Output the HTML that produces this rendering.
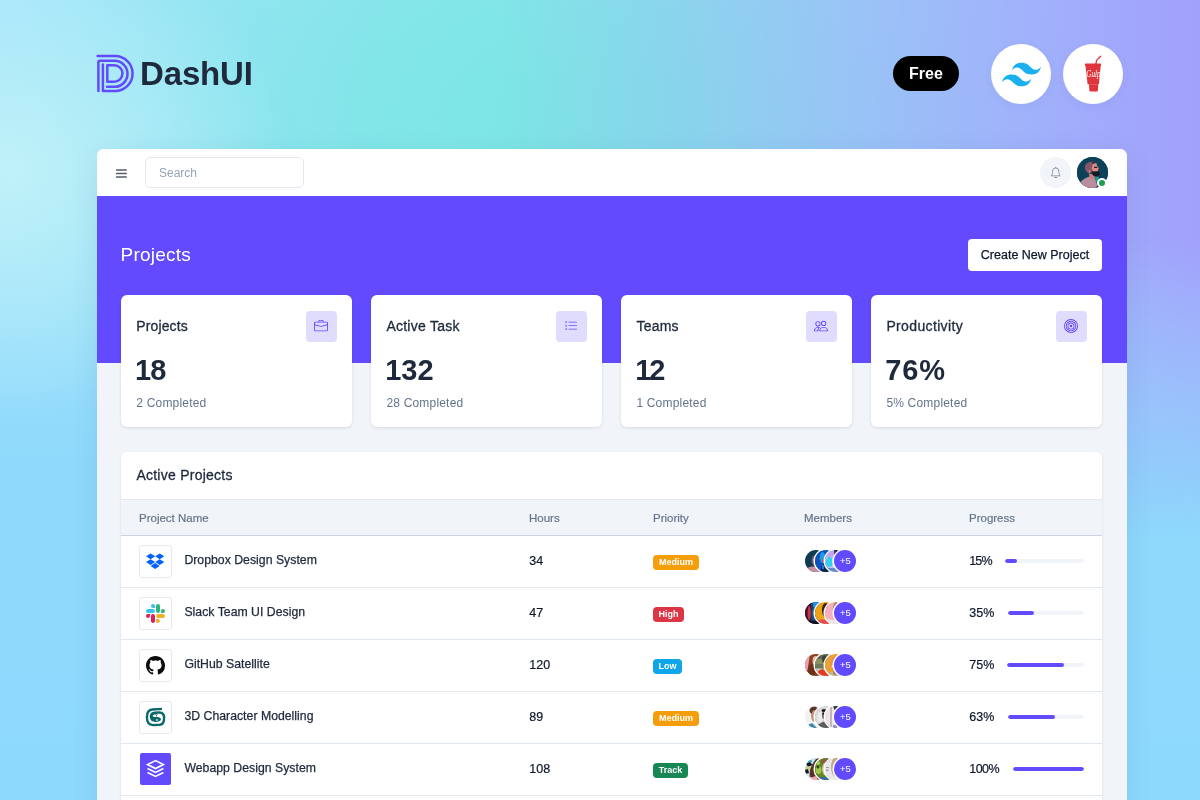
<!DOCTYPE html>
<html lang="en">
<head>
<meta charset="utf-8">
<title>DashUI</title>
<style>
*{box-sizing:border-box;margin:0;padding:0}
html,body{width:1200px;height:800px;overflow:hidden}
body{font-family:"Liberation Sans",sans-serif;color:#1e293b;position:relative;
background:
 radial-gradient(ellipse 280px 250px at 10px 170px,rgba(193,242,248,.95) 0%,rgba(193,242,248,0) 100%),
 radial-gradient(ellipse 540px 460px at 530px 120px,#7ce6e4 0%,rgba(124,230,228,.85) 28%,rgba(124,230,228,0) 100%),
 linear-gradient(180deg,#a3e4fb 0px,#9ee1fb 250px,#8fd9fc 470px,#8dd9fd 100%);
}
body:before{content:"";position:absolute;left:0;top:0;width:1200px;height:800px;
 background:linear-gradient(to left,#a1a0fb 0px,rgba(161,160,251,.5) 330px,rgba(161,160,251,0) 700px);
 -webkit-mask-image:linear-gradient(to bottom,#000 0px,#000 240px,rgba(0,0,0,.5) 390px,transparent 540px);
 mask-image:linear-gradient(to bottom,#000 0px,#000 240px,rgba(0,0,0,.5) 390px,transparent 540px);}
.abs{position:absolute}
/* top brand */
#brand-logo{left:94px;top:52px;width:44px;height:44px}
#brand-text{left:140px;top:55px;font-size:33px;font-weight:700;letter-spacing:-.15px;color:#1e293b;line-height:38px;white-space:nowrap}
#free{left:893px;top:56px;width:66px;height:35px;border-radius:18px;background:#000;color:#fff;font-weight:700;font-size:16px;line-height:35px;text-align:center}
.circ{width:60px;height:60px;border-radius:50%;background:#fff;top:44px;box-shadow:0 3px 12px rgba(60,60,140,.05)}
/* window */
#win{left:97px;top:149px;width:1030px;height:660px;background:#f1f5f9;border-radius:7px 7px 0 0;overflow:hidden;box-shadow:0 8px 28px rgba(40,60,120,.10)}
#hdr{left:0;top:0;width:1030px;height:47px;background:#fff}
#purple{left:0;top:47px;width:1030px;height:167px;background:#624bff}
#search{left:48px;top:8px;width:159px;height:31px;border:1px solid #e2e8f0;border-radius:5px;background:#fff;font-size:12px;color:#94a3b8;line-height:30px;padding-left:13px}
#bell{left:943px;top:8px;width:31px;height:31px;border-radius:50%;background:#f1f5f9}
#me{left:980.100px;top:8px;width:31px;height:31px;border-radius:50%;background:#0e4a52;overflow:hidden}
#dot{left:1000px;top:28.800px;width:10px;height:10px;border-radius:50%;background:#1f9d55;border:2px solid #fff}
#ptitle{left:23.600px;top:94px;font-size:19px;color:#fff;line-height:24px;white-space:nowrap;letter-spacing:.22px}
#create{left:871px;top:90px;width:134px;height:32px;background:#fff;border-radius:4px;font-size:12.5px;color:#0f172a;-webkit-text-stroke:.25px #0f172a;text-align:center;line-height:32px;white-space:nowrap}
.card{top:146px;width:231.600px;height:131.700px;background:#fff;border-radius:6px;box-shadow:0 1px 3px rgba(15,23,42,.12)}
.card .t{left:15.700px;top:22px;font-size:14px;line-height:18px;color:#1e293b;white-space:nowrap;letter-spacing:.12px;-webkit-text-stroke:.3px #1e293b}
.card .n{left:14.500px;top:58px;font-size:29px;letter-spacing:-1px;font-weight:700;line-height:34px;color:#1e293b;white-space:nowrap}
.card .c{left:15.700px;top:99.500px;font-size:12px;line-height:16px;color:#64748b;white-space:nowrap;letter-spacing:.19px}
.card .ib{left:185px;top:16px;width:31px;height:31px;border-radius:4px;background:#e0dcfe}
.card .ib svg{position:absolute;left:8.300px;top:7.900px;width:14px;height:14px;fill:#624bff}
#tbl{left:24px;top:303px;width:981px;height:400px;background:#fff;border-radius:6px 6px 0 0;box-shadow:0 1px 3px rgba(15,23,42,.10)}
#tbl h2{position:absolute;left:15.400px;top:14px;font-size:14px;font-weight:400;line-height:18px;color:#1e293b;white-space:nowrap;letter-spacing:.25px;-webkit-text-stroke:.3px #1e293b}
#thead{left:0;top:47px;width:981px;height:37px;background:#f1f5f9;border-top:1px solid #e2e8f0;border-bottom:1px solid #cbd5e1}
#thead span{position:absolute;top:11px;font-size:11.5px;line-height:14px;color:#64748b;white-space:nowrap;-webkit-text-stroke:.2px #64748b}
.row{left:0;width:981px;height:52px;border-bottom:1px solid #e2e8f0}
.row .lg{left:18px;top:9px;width:33px;height:33px;border:1px solid #e5e9f0;border-radius:3px;background:#fff}
.row .nm{left:63.400px;top:16px;font-size:12.250px;line-height:16px;color:#1e293b;white-space:nowrap;letter-spacing:.02px;-webkit-text-stroke:.25px #1e293b}
.row .hr{left:408.300px;top:17.300px;font-size:12.500px;line-height:16px;color:#0f172a;-webkit-text-stroke:.2px #0f172a}
.row .bd{left:532px;top:19px;height:15px;border-radius:4px;color:#fff;font-size:9px;font-weight:700;line-height:15px;text-align:center}
.row .av{top:14.200px;width:22px;height:22px;border-radius:50%;box-shadow:0 0 0 1.500px #fff;overflow:hidden}
.row .p5{left:713.400px;top:14.200px;width:22px;height:22px;border-radius:50%;box-shadow:0 0 0 1.500px #fff;background:#624bff;color:#fff;font-size:9.5px;line-height:22px;text-align:center}
.row .pc{left:848.300px;top:17.300px;font-size:12.500px;line-height:16px;color:#0f172a;-webkit-text-stroke:.2px #0f172a}
.row .bar{top:23px;height:4px;border-radius:2px;background:#f1f5f9;overflow:hidden}
.row .bar i{display:block;height:4px;border-radius:2px;background:#624bff}
</style>
</head>
<body>
<!-- brand -->
<svg id="brand-logo" class="abs" viewBox="94 52 44 44" fill="none" stroke="#624bff" stroke-width="2.5" stroke-linecap="round" stroke-linejoin="round">
<path d="M97.600 55.900H115a17.600 17.600 0 0 1 0 35.200H102.900V64.600"/>
<path d="M98.400 91.100V62.300a1.500 1.500 0 0 1 1.500-1.500H114.500a13 13 0 0 1 0 26H107"/>
<path d="M107.300 65.300H114.200a8.250 8.250 0 0 1 0 16.500H107.300Z"/>
</svg>
<div id="brand-text" class="abs">DashUI</div>
<div id="free" class="abs">Free</div>
<div class="abs circ" style="left:991px"><svg class="abs" style="left:7px;top:7px;width:47px;height:47px" viewBox="0 0 24 24" fill="#1ab0f0"><path d="M12 6c-2.670 0-4.330 1.330-5 4 1-1.330 2.170-1.830 3.500-1.500.76.190 1.310.74 1.910 1.350.98 1 2.090 2.150 4.590 2.150 2.670 0 4.330-1.330 5-4-1 1.330-2.170 1.830-3.500 1.500-.76-.19-1.300-.74-1.910-1.350C15.610 7.150 14.510 6 12 6zM7 12c-2.670 0-4.330 1.330-5 4 1-1.330 2.170-1.830 3.500-1.500.76.190 1.300.74 1.910 1.350C8.390 16.850 9.490 18 12 18c2.670 0 4.330-1.330 5-4-1 1.330-2.170 1.830-3.500 1.500-.76-.19-1.300-.74-1.910-1.350C10.610 13.150 9.510 12 7 12z"/></svg></div>
<div class="abs circ" style="left:1063px"><svg class="abs" style="left:0;top:0;width:60px;height:60px" viewBox="1063 44 60 60"><g fill="#e0353b"><rect x="1084.900" y="63.600" width="16.200" height="2.300" rx="1"/><path d="M1085.500 65.800H1100.700L1098.900 84.300H1087.600z"/><path d="M1088.900 84.200H1098.300L1097.800 90.700a1 1 0 0 1-1 .9h-6.400a1 1 0 0 1-1-.9z"/></g><path d="M1095.900 64l.8-3.900 4-3.900" fill="none" stroke="#e0353b" stroke-width="1.300" stroke-linecap="round" stroke-linejoin="round"/><text x="1086.300" y="77.300" textLength="14.400" lengthAdjust="spacingAndGlyphs" font-family="Liberation Serif,serif" font-style="italic" font-weight="400" font-size="10.500" fill="#fff">Gulp</text></svg></div>

<div id="win" class="abs">
 <div id="hdr" class="abs"></div>
 <div id="purple" class="abs"></div>
 <div id="search" class="abs">Search</div>
 <svg class="abs" style="left:18px;top:19px;width:13px;height:11px" viewBox="0 0 13 11" fill="none" stroke="#525d6d" stroke-width="1.350" stroke-linecap="round"><path d="M1.500 2h9.800M1.500 5.500h9.800M1.500 9h9.800"/></svg>
 <div id="bell" class="abs"><svg class="abs" style="left:9.800px;top:9.600px;width:11.400px;height:11.400px" viewBox="0 0 16 16" fill="#7b8594"><path d="M8 16a2 2 0 0 0 2-2H6a2 2 0 0 0 2 2zM8 1.918l-.797.161A4.002 4.002 0 0 0 4 6c0 .628-.134 2.197-.459 3.742-.16.767-.376 1.566-.663 2.258h10.244c-.287-.692-.502-1.490-.663-2.258C12.134 8.197 12 6.628 12 6a4.002 4.002 0 0 0-3.203-3.920L8 1.917zM14.220 12c.223.447.481.801.78 1H1c.299-.199.557-.553.780-1C2.680 10.200 3 6.880 3 6c0-2.420 1.720-4.440 4.005-4.901a1 1 0 1 1 1.990 0A5.002 5.002 0 0 1 13 6c0 .880.320 4.200 1.220 6z"/></svg></div>
 <div id="me" class="abs"><svg viewBox="0 0 31 31" width="31" height="31" style="display:block"><rect width="31" height="31" fill="#0e4059"/><path d="M17.500 6.500C18.500 5.800 19.800 6 20 7.200L19.500 9 17.800 9z" fill="#17a18f"/><path d="M17.900 19.500L21.800 20 22 24 19 25z" fill="#17a18f"/><path d="M2.500 26.500C4 23.500 7.500 21.800 11 20L15 19.500 18.200 22.200 20.200 28 19 31H4z" fill="#b98d9c"/><path d="M11.900 16.500L12.500 21 15.500 23 18 22 17.500 18z" fill="#cc7f7c"/><path d="M8 8.500C9.500 5.500 13.500 4.200 17.900 4.600L18.500 6.500 16 8 15.200 12 14.600 14.800 12.300 16.600C9.500 15.500 7.200 12.500 8 8.500z" fill="#84586a"/><path d="M14.500 4.700L17.900 4.400 18.600 6.300 15.500 6.800z" fill="#3b2c3c"/><path d="M15.600 7.500L18.600 6.300 20.400 9 21.900 11.500 21 12.300 21.200 14.300 15 15 14.800 11.500z" fill="#e18a82"/><ellipse cx="12.700" cy="14.500" rx=".9" ry="1.600" fill="#d58279"/><path d="M16.900 9.700H20.400L20.200 11H17.300z" fill="#182030"/><path d="M14.900 12.500L15.800 14.500C17.500 14.800 19.500 14.300 21 14.200L22.900 15.500C23.200 17 22.600 18.300 21.500 18.800L17 19.200C15.600 18.300 14.900 16 14.900 12.500z" fill="#191820"/></svg></div>
 <div id="dot" class="abs"></div>
 <div id="ptitle" class="abs">Projects</div>
 <div id="create" class="abs">Create New Project</div>

 <div class="abs card" style="left:23.600px">
  <div class="abs t">Projects</div><div class="abs n">18</div><div class="abs c">2 Completed</div>
  <div class="abs ib"><svg viewBox="0 0 16 16"><path d="M6.500 1A1.500 1.500 0 0 0 5 2.500V3H1.500A1.500 1.500 0 0 0 0 4.500v8A1.500 1.500 0 0 0 1.500 14h13a1.500 1.500 0 0 0 1.500-1.500v-8A1.500 1.500 0 0 0 14.500 3H11v-.5A1.500 1.500 0 0 0 9.500 1h-3zm0 1h3a.5.5 0 0 1 .5.5V3H6v-.5a.5.5 0 0 1 .5-.5zm1.886 6.914L15 7.151V12.500a.5.5 0 0 1-.5.5h-13a.5.5 0 0 1-.5-.5V7.150l6.614 1.764a1.500 1.500 0 0 0 .772 0zM1.500 4h13a.5.5 0 0 1 .5.5v1.616L8.129 7.948a.5.5 0 0 1-.258 0L1 6.116V4.500a.5.5 0 0 1 .5-.5z"/></svg></div>
 </div>
 <div class="abs card" style="left:273.700px">
  <div class="abs t" style="letter-spacing:.25px">Active Task</div><div class="abs n" style="letter-spacing:0">132</div><div class="abs c">28 Completed</div>
  <div class="abs ib"><svg viewBox="0 0 16 16"><path fill-rule="evenodd" d="M2 2.500a.5.5 0 0 0-.5.5v1a.5.5 0 0 0 .5.5h1a.5.5 0 0 0 .5-.5V3a.5.5 0 0 0-.5-.5H2zM3 3H2v1h1V3z"/><path d="M5 3.500a.5.5 0 0 1 .5-.5h9a.5.5 0 0 1 0 1h-9a.5.5 0 0 1-.5-.5zM5.500 7a.5.5 0 0 0 0 1h9a.5.5 0 0 0 0-1h-9zm0 4a.5.5 0 0 0 0 1h9a.5.5 0 0 0 0-1h-9z"/><path fill-rule="evenodd" d="M1.500 7a.5.5 0 0 1 .5-.5h1a.5.5 0 0 1 .5.5v1a.5.5 0 0 1-.5.5H2a.5.5 0 0 1-.5-.5V7zM2 7h1v1H2V7zm0 3.500a.5.5 0 0 0-.5.5v1a.5.5 0 0 0 .5.5h1a.5.5 0 0 0 .5-.5v-1a.5.5 0 0 0-.5-.5H2zm1 .5H2v1h1v-1z"/></svg></div>
 </div>
 <div class="abs card" style="left:523.700px">
  <div class="abs t" style="letter-spacing:.25px">Teams</div><div class="abs n" style="letter-spacing:-2px">12</div><div class="abs c">1 Completed</div>
  <div class="abs ib"><svg viewBox="0 0 16 16"><path d="M15 14s1 0 1-1-1-4-5-4-5 3-5 4 1 1 1 1h8zm-7.978-1A.261.261 0 0 1 7 12.996c.001-.264.167-1.030.76-1.720C8.312 10.629 9.282 10 11 10c1.717 0 2.687.63 3.240 1.276.593.690.758 1.457.76 1.720l-.8.002a.274.274 0 0 1-.14.002H7.022zM11 7a2 2 0 1 0 0-4 2 2 0 0 0 0 4zm3-2a3 3 0 1 1-6 0 3 3 0 0 1 6 0zM6.936 9.280a5.880 5.880 0 0 0-1.230-.247A7.350 7.350 0 0 0 5 9c-4 0-5 3-5 4 0 .667.333 1 1 1h4.216A2.238 2.238 0 0 1 5 13c0-1.010.377-2.042 1.090-2.904.243-.294.526-.569.846-.816zM4.920 10A5.493 5.493 0 0 0 4 13H1c0-.26.164-1.030.76-1.724.545-.636 1.492-1.256 3.160-1.275zM1.500 5.500a3 3 0 1 1 6 0 3 3 0 0 1-6 0zm3-2a2 2 0 1 0 0 4 2 2 0 0 0 0-4z"/></svg></div>
 </div>
 <div class="abs card" style="left:773.700px">
  <div class="abs t" style="letter-spacing:.36px">Productivity</div><div class="abs n" style="letter-spacing:.9px">76%</div><div class="abs c">5% Completed</div>
  <div class="abs ib"><svg viewBox="0 0 16 16"><path d="M8 15A7 7 0 1 1 8 1a7 7 0 0 1 0 14zm0 1A8 8 0 1 0 8 0a8 8 0 0 0 0 16z"/><path d="M8 13A5 5 0 1 1 8 3a5 5 0 0 1 0 10zm0 1A6 6 0 1 0 8 2a6 6 0 0 0 0 12z"/><path d="M8 11a3 3 0 1 1 0-6 3 3 0 0 1 0 6zm0 1a4 4 0 1 0 0-8 4 4 0 0 0 0 8z"/><path d="M9.500 8a1.500 1.500 0 1 1-3 0 1.500 1.500 0 0 1 3 0z"/></svg></div>
 </div>
 <div id="tbl" class="abs">
  <h2>Active Projects</h2>
  <div id="thead" class="abs"><span style="left:18px">Project Name</span><span style="left:408px">Hours</span><span style="left:532px">Priority</span><span style="left:683px">Members</span><span style="left:848px">Progress</span></div>

  <div class="abs row" style="top:84px">
   <div class="abs lg"><svg class="abs" style="left:6.300px;top:5.600px;width:18.300px;height:18.300px" viewBox="0 0 24 24" fill="#0061ff"><path d="M6 1.807L0 5.629l6 3.822 6.001-3.822L6 1.807zM18 1.807l-6 3.822 6 3.822 6-3.822-6-3.822zM0 13.274l6 3.822 6.001-3.822L6 9.452l-6 3.822zM18 9.452l-6 3.822 6 3.822 6-3.822-6-3.822zM6 18.371l6.001 3.822 6-3.822-6-3.822L6 18.371z"/></svg></div>
   <div class="abs nm">Dropbox Design System</div><div class="abs hr">34</div>
   <div class="abs bd" style="width:46px;background:#f59e0b">Medium</div>
   <div class="abs av" style="left:683.7px"><svg viewBox="0 0 22 22" width="22" height="22" style="display:block"><rect width="22" height="22" fill="#0d3d55"/><ellipse cx="10.5" cy="10.5" rx="4" ry="5.5" fill="#7d5468"/><path d="M1 18.500L6 16.500 14 16.800 16 22H1z" fill="#c68fa0"/></svg></div>
   <div class="abs av" style="left:693.6px"><svg viewBox="0 0 22 22" width="22" height="22" style="display:block"><rect width="22" height="22" fill="#0b52bd"/><ellipse cx="7.5" cy="7.5" rx="2.6" ry="5.5" fill="#1f9df0"/><ellipse cx="5.2" cy="9.2" rx="0.9" ry="0.7" fill="#2aa070"/><ellipse cx="8.2" cy="10.5" rx="0.9" ry="1.6" fill="#f02535"/><path d="M6 17L9 13 13 15V22H6z" fill="#0a1f45"/><ellipse cx="8" cy="17" rx="1.2" ry="2.5" fill="#1580d8"/></svg></div>
   <div class="abs av" style="left:703.5px"><svg viewBox="0 0 22 22" width="22" height="22" style="display:block"><rect width="22" height="22" fill="#b9c6f0"/><path d="M2 0H12L8 7H2z" fill="#c9a2f0"/><ellipse cx="4.5" cy="12" rx="3.6" ry="5" fill="#35d0f0"/><path d="M9 0H14L9.500 6z" fill="#1a2a5a"/><path d="M3 18H14V22H3z" fill="#6a8ac8"/><ellipse cx="9" cy="12" rx="1.5" ry="5" fill="#dfe6fa"/></svg></div>
   <div class="abs p5">+5</div>
   <div class="abs pc" style="letter-spacing:-.9px">15%</div><div class="abs bar" style="left:884px;width:78.500px"><i style="width:15%"></i></div>
  </div>

  <div class="abs row" style="top:136px">
   <div class="abs lg"><svg class="abs" style="left:6px;top:6px;width:19px;height:19px" viewBox="0 0 24 24"><path fill="#e01e5a" d="M5.042 15.165a2.528 2.528 0 0 1-2.520 2.523A2.528 2.528 0 0 1 0 15.165a2.527 2.527 0 0 1 2.522-2.520h2.520v2.520zM6.313 15.165a2.527 2.527 0 0 1 2.521-2.520 2.527 2.527 0 0 1 2.521 2.520v6.313A2.528 2.528 0 0 1 8.834 24a2.528 2.528 0 0 1-2.521-2.522v-6.313z"/><path fill="#36c5f0" d="M8.834 5.042a2.528 2.528 0 0 1-2.521-2.520A2.528 2.528 0 0 1 8.834 0a2.528 2.528 0 0 1 2.521 2.522v2.520H8.834zM8.834 6.313a2.528 2.528 0 0 1 2.521 2.521 2.528 2.528 0 0 1-2.521 2.521H2.522A2.528 2.528 0 0 1 0 8.834a2.528 2.528 0 0 1 2.522-2.521h6.312z"/><path fill="#2eb67d" d="M18.956 8.834a2.528 2.528 0 0 1 2.522-2.521A2.528 2.528 0 0 1 24 8.834a2.528 2.528 0 0 1-2.522 2.521h-2.522V8.834zM17.688 8.834a2.528 2.528 0 0 1-2.523 2.521 2.527 2.527 0 0 1-2.520-2.521V2.522A2.527 2.527 0 0 1 15.165 0a2.528 2.528 0 0 1 2.523 2.522v6.312z"/><path fill="#ecb22e" d="M15.165 18.956a2.528 2.528 0 0 1 2.523 2.522A2.528 2.528 0 0 1 15.165 24a2.527 2.527 0 0 1-2.520-2.522v-2.522h2.520zM15.165 17.688a2.527 2.527 0 0 1-2.520-2.523 2.526 2.526 0 0 1 2.520-2.520h6.313A2.527 2.527 0 0 1 24 15.165a2.528 2.528 0 0 1-2.522 2.523h-6.313z"/></svg></div>
   <div class="abs nm">Slack Team UI Design</div><div class="abs hr">47</div>
   <div class="abs bd" style="width:31px;background:#dc3545">High</div>
   <div class="abs av" style="left:683.7px"><svg viewBox="0 0 22 22" width="22" height="22" style="display:block"><rect width="22" height="22" fill="#16406a"/><path d="M0 0H6V22H0z" fill="#4a1025"/><ellipse cx="4.2" cy="11" rx="1.6" ry="7" fill="#c83545"/><path d="M8 0H14L11 6 8 5z" fill="#2490e0"/><path d="M2 19H14V22H2z" fill="#0a0a18"/><ellipse cx="8.5" cy="12" rx="1.5" ry="6" fill="#1d5a95"/></svg></div>
   <div class="abs av" style="left:693.6px"><svg viewBox="0 0 22 22" width="22" height="22" style="display:block"><rect width="22" height="22" fill="#eda312"/><ellipse cx="10.5" cy="8" rx="3.6" ry="7" fill="#3a2218"/><ellipse cx="12" cy="11" rx="3" ry="5.5" fill="#e8b8a0"/><path d="M3 18.500C6 16.500 10 17.500 14 20V22H3z" fill="#e84a5a"/></svg></div>
   <div class="abs av" style="left:703.5px"><svg viewBox="0 0 22 22" width="22" height="22" style="display:block"><rect width="22" height="22" fill="#f5b0c0"/><ellipse cx="11" cy="8" rx="3.2" ry="8" fill="#b08a60"/><ellipse cx="12.5" cy="11" rx="2.6" ry="5" fill="#e8c4a8"/><path d="M1 17.500C4 16.500 9 18 14 20V22H1z" fill="#e9e9ea"/></svg></div>
   <div class="abs p5">+5</div>
   <div class="abs pc">35%</div><div class="abs bar" style="left:886.500px;width:76px"><i style="width:35%"></i></div>
  </div>

  <div class="abs row" style="top:188px">
   <div class="abs lg"><svg class="abs" style="left:6px;top:6px;width:19px;height:19px" viewBox="0 0 16 16" fill="#0b0b0b"><path d="M8 0C3.580 0 0 3.580 0 8c0 3.540 2.290 6.530 5.470 7.590.4.070.55-.17.55-.38 0-.19-.01-.82-.01-1.490-2.010.37-2.530-.49-2.690-.94-.09-.23-.48-.94-.82-1.130-.28-.15-.68-.52-.01-.53.630-.01 1.080.58 1.230.82.720 1.210 1.870.87 2.330.66.070-.52.280-.87.510-1.070-1.780-.2-3.640-.89-3.640-3.950 0-.87.310-1.590.82-2.150-.08-.2-.36-1.020.08-2.120 0 0 .67-.21 2.200.82.640-.18 1.320-.27 2-.27.680 0 1.360.09 2 .27 1.530-1.040 2.200-.82 2.200-.82.440 1.100.16 1.920.08 2.120.51.560.82 1.270.82 2.150 0 3.070-1.870 3.750-3.650 3.950.290.250.54.730.54 1.480 0 1.070-.01 1.930-.01 2.200 0 .21.150.46.55.38A8.012 8.012 0 0 0 16 8c0-4.420-3.580-8-8-8z"/></svg></div>
   <div class="abs nm">GitHub Satellite</div><div class="abs hr">120</div>
   <div class="abs bd" style="width:29px;background:#0ea5e9">Low</div>
   <div class="abs av" style="left:683.7px"><svg viewBox="0 0 22 22" width="22" height="22" style="display:block"><rect width="22" height="22" fill="#8a4020"/><path d="M0 0H5L2.500 16 0 16z" fill="#eea0b8"/><ellipse cx="10.5" cy="6.5" rx="3" ry="4.5" fill="#e8b8a0"/><ellipse cx="7" cy="16" rx="4" ry="6" fill="#6e3018"/></svg></div>
   <div class="abs av" style="left:693.6px"><svg viewBox="0 0 22 22" width="22" height="22" style="display:block"><rect width="22" height="22" fill="#5a6a52"/><path d="M0 5H14V10H0z" fill="#8a9060"/><path d="M0 10H14V15H0z" fill="#6f7a5a"/><path d="M0 14.500H14V22H0z" fill="#c8d2d2"/><path d="M3 18C4 15 8 14.500 10 16.500L14 22H3z" fill="#e83a20"/><ellipse cx="9.5" cy="5" rx="2.5" ry="3.5" fill="#3a4238"/></svg></div>
   <div class="abs av" style="left:703.5px"><svg viewBox="0 0 22 22" width="22" height="22" style="display:block"><rect width="22" height="22" fill="#f0a030"/><ellipse cx="11" cy="10" rx="5" ry="8" fill="#d89060"/><ellipse cx="8" cy="12.5" rx="1.5" ry="1" fill="#fff"/><path d="M5 18.500L9 17 14 22H5z" fill="#b8b8b0"/><ellipse cx="10" cy="18" rx="2" ry="3" fill="#c07848"/></svg></div>
   <div class="abs p5">+5</div>
   <div class="abs pc">75%</div><div class="abs bar" style="left:885.500px;width:77px"><i style="width:75%"></i></div>
  </div>

  <div class="abs row" style="top:240px">
   <div class="abs lg"><svg class="abs" style="left:-5px;top:-5px;width:40px;height:40px" viewBox="0 0 40 40" fill="none" stroke="#0a686b" stroke-width="2.400" stroke-linejoin="round"><path d="M27 11.900L17.500 12.500C13.500 12.800 11.900 15 11.900 20 11.900 25.500 13.500 27.900 18 28.100L25 27.800C28.400 27.500 29.200 25 29.100 20.500 29 16.900 27.500 15.600 24.500 15.500L20 15.600C17 15.800 15.900 17.500 15.900 20"/><path fill="#0a686b" stroke="none" d="M14.800 19.500C14.800 23.800 18 25.100 21.500 24.900 24.300 24.700 26 23.500 26 22 25.600 20.600 23.800 19.900 22 20 19.800 20.200 18 19.800 17.400 18.800 18 17.700 20.500 17.200 23 17.500L21.500 16C18 15.600 14.800 16.500 14.800 19.500Z"/><ellipse cx="21.900" cy="23" rx="1.100" ry=".7" fill="#fff" stroke="none"/><circle cx="21.500" cy="18.700" r=".6" fill="#0a686b" stroke="none"/></svg></div>
   <div class="abs nm">3D Character Modelling</div><div class="abs hr">89</div>
   <div class="abs bd" style="width:46px;background:#f59e0b">Medium</div>
   <div class="abs av" style="left:683.7px"><svg viewBox="0 0 22 22" width="22" height="22" style="display:block"><rect width="22" height="22" fill="#f0f2f4"/><ellipse cx="9" cy="4.5" rx="4.5" ry="4" fill="#5a3828"/><ellipse cx="10" cy="10" rx="4" ry="6" fill="#c89078"/><path d="M3 19L7 17 12 22H3z" fill="#3a88a8"/></svg></div>
   <div class="abs av" style="left:693.6px"><svg viewBox="0 0 22 22" width="22" height="22" style="display:block"><rect width="22" height="22" fill="#d9d9d9"/><ellipse cx="9" cy="4.5" rx="2.5" ry="1.6" fill="#181818"/><ellipse cx="8.5" cy="9.5" rx="1.6" ry="3.2" fill="#181818"/><path d="M3 18.500L9 15.500 14 18V22H3z" fill="#5e5e5e"/><ellipse cx="5" cy="11" rx="2.5" ry="5" fill="#ececec"/></svg></div>
   <div class="abs av" style="left:703.5px"><svg viewBox="0 0 22 22" width="22" height="22" style="display:block"><rect width="22" height="22" fill="#f0e4e8"/><path d="M5 0H7V22H5z" fill="#e8b8a8"/><path d="M8 0H13V4.500L9.500 4z" fill="#303840"/><path d="M5.500 0H6.500V22H5.500z" fill="#9ab8c8"/><path d="M8 19H12V22H8z" fill="#8a90c0"/></svg></div>
   <div class="abs p5">+5</div>
   <div class="abs pc">63%</div><div class="abs bar" style="left:886.500px;width:76px"><i style="width:63%"></i></div>
  </div>

  <div class="abs row" style="top:292px">
   <div class="abs lg" style="border:0;background:#624bff;border-radius:2px;width:31.500px;height:31.500px;left:18.600px;top:9.200px"><svg class="abs" style="left:6.300px;top:6.300px;width:19px;height:19px" viewBox="0 0 24 24" fill="none" stroke="#fff" stroke-width="2" stroke-linejoin="miter"><polygon points="12 2 2 7 12 12 22 7 12 2"/><polyline points="2 17 12 22 22 17"/><polyline points="2 12 12 17 22 12"/></svg></div>
   <div class="abs nm">Webapp Design System</div><div class="abs hr">108</div>
   <div class="abs bd" style="width:35px;background:#198754">Track</div>
   <div class="abs av" style="left:683.7px"><svg viewBox="0 0 22 22" width="22" height="22" style="display:block"><rect width="22" height="22" fill="#c8e0f0"/><ellipse cx="5" cy="3.3" rx="2" ry="1.2" fill="#30b0c0"/><path d="M1 5.500L5 4 7.500 7 3 9z" fill="#101820"/><path d="M0 9L5 8 6 12 0 13z" fill="#c8d090"/><path d="M0 12L3 11 4 15 0 16z" fill="#101820"/><path d="M11 1C7 6 3.500 12 5 19L14 22V0z" fill="#5a3020"/><path d="M6 19.500L11 18 13 22H7z" fill="#f0a0b0"/></svg></div>
   <div class="abs av" style="left:693.6px"><svg viewBox="0 0 22 22" width="22" height="22" style="display:block"><rect width="22" height="22" fill="#5a8a20"/><ellipse cx="3.5" cy="12" rx="3" ry="4" fill="#a0c850"/><ellipse cx="3" cy="5" rx="2" ry="2" fill="#b0d060"/><ellipse cx="3" cy="9" rx="1.5" ry="1.5" fill="#2a4a10"/><ellipse cx="10" cy="3.5" rx="4" ry="3" fill="#8a6040"/><ellipse cx="10.5" cy="11" rx="3.4" ry="6.5" fill="#e8c0a0"/><path d="M4 19.500C7 18 10 19 14 20.500V22H4z" fill="#3a6a9a"/></svg></div>
   <div class="abs av" style="left:703.5px"><svg viewBox="0 0 22 22" width="22" height="22" style="display:block"><rect width="22" height="22" fill="#e8e8ec"/><ellipse cx="11" cy="9" rx="5" ry="10" fill="#c8a880"/><ellipse cx="12" cy="11" rx="3" ry="6" fill="#e0b090"/><path d="M1 9H4V10H1zM1 11.500H3.500V13H1z" fill="#9aa0b0"/></svg></div>
   <div class="abs p5">+5</div>
   <div class="abs pc" style="letter-spacing:-.55px">100%</div><div class="abs bar" style="left:892px;width:70.500px"><i style="width:100%"></i></div>
  </div>
 </div>
</div>
</body>
</html>
